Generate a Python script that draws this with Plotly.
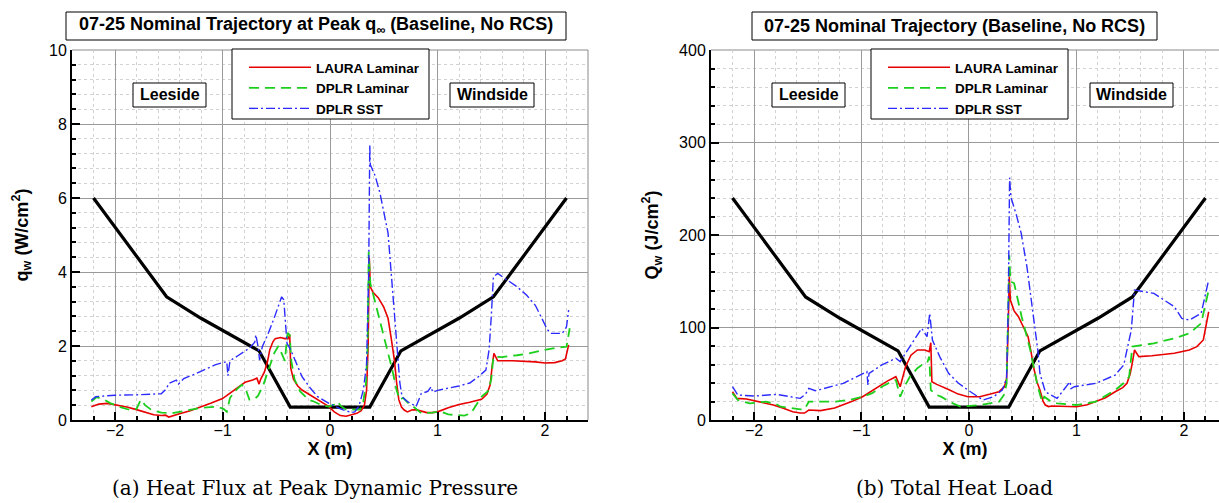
import plotly.graph_objects as go

# ---------------- data ----------------
# body cross-section outline (reference shape)
x_body = [-2.2, -1.52, -1.2, -0.8, -0.66, -0.37, 0.37, 0.66, 0.8, 1.2, 1.52, 2.2]
q_body = [6.0, 3.33, 2.75, 2.1, 1.87, 0.35, 0.35, 1.87, 2.1, 2.75, 3.33, 6.0]
Q_body = [240, 133, 110, 84, 74.8, 14, 14, 74.8, 84, 110, 133, 240]

# (a) heat flux at peak dynamic pressure, W/cm^2
x_laura_q = [-2.22, -2.15, -2.07, -1.98, -1.89, -1.8, -1.72, -1.64, -1.57, -1.53, -1.5, -1.45, -1.4, -1.3, -1.2,
             -1.11, -1.0, -0.93, -0.86, -0.79, -0.72, -0.68, -0.66, -0.645, -0.61, -0.58, -0.56, -0.53, -0.51,
             -0.46, -0.42, -0.39, -0.375, -0.365, -0.34, -0.3, -0.26, -0.2, -0.115, -0.05, -0.01, 0.04, 0.096,
             0.15, 0.2, 0.25, 0.29, 0.32, 0.34, 0.355, 0.365, 0.375, 0.40, 0.45, 0.5, 0.54, 0.57, 0.60, 0.62,
             0.64, 0.665, 0.69, 0.72, 0.76, 0.8, 0.85, 0.9, 0.95, 1.0, 1.1, 1.2, 1.3, 1.41, 1.46, 1.49, 1.51,
             1.525, 1.56, 1.7, 1.91, 2.0, 2.09, 2.16, 2.19, 2.22]
laura_q = [0.36, 0.43, 0.45, 0.41, 0.35, 0.28, 0.2, 0.14, 0.12, 0.13, 0.08, 0.13, 0.17, 0.25, 0.35,
           0.45, 0.58, 0.72, 0.88, 1.02, 1.08, 1.13, 0.97, 1.1, 1.3, 1.6, 1.9, 2.12, 2.2,
           2.23, 2.2, 2.2, 2.3, 1.4, 1.1, 0.92, 0.81, 0.7, 0.54, 0.42, 0.36, 0.22, 0.12,
           0.1, 0.13, 0.18, 0.25, 0.4, 0.8, 2.0, 4.4, 3.6, 3.45, 3.3, 3.05, 2.75, 2.2, 1.6, 1.0,
           0.55, 0.35, 0.27, 0.22, 0.27, 0.28, 0.25, 0.2, 0.2, 0.22, 0.33, 0.42, 0.48, 0.56, 0.7, 0.95, 1.5,
           1.8, 1.6, 1.6, 1.57, 1.54, 1.55, 1.6, 1.65, 2.03]

x_dplr_q = [-2.22, -2.17, -2.1, -2.04, -1.95, -1.86, -1.8, -1.76, -1.72, -1.66, -1.57, -1.47, -1.35, -1.19,
            -1.05, -0.99, -0.96, -0.93, -0.86, -0.82, -0.78, -0.75, -0.71, -0.67, -0.62, -0.57, -0.52, -0.48,
            -0.44, -0.42, -0.395, -0.375, -0.36, -0.33, -0.28, -0.2, -0.15, -0.08, -0.01, 0.04, 0.07, 0.1,
            0.15, 0.22, 0.28, 0.31, 0.335, 0.35, 0.36, 0.375, 0.41, 0.45, 0.49, 0.53, 0.58, 0.62, 0.65, 0.68,
            0.72, 0.78, 0.85, 0.95, 1.03, 1.1, 1.17, 1.25, 1.31, 1.36, 1.41, 1.47, 1.5, 1.52, 1.6, 1.74, 1.85,
            1.99, 2.1, 2.2, 2.23]
dplr_q = [0.5, 0.62, 0.55, 0.45, 0.35, 0.27, 0.3, 0.55, 0.4, 0.27, 0.2, 0.18, 0.25, 0.33,
          0.36, 0.3, 0.22, 0.6, 0.85, 0.95, 0.8, 0.55, 0.55, 0.65, 0.95, 1.4, 1.8, 2.0,
          1.75, 1.6, 2.35, 2.3, 1.6, 1.1, 0.78, 0.55, 0.5, 0.4, 0.36, 0.42, 0.5, 0.38,
          0.28, 0.27, 0.28, 0.5, 1.0, 2.0, 4.55, 3.7, 3.3, 2.88, 2.4, 1.9, 1.35, 0.8, 0.55, 0.6,
          0.48, 0.35, 0.18, 0.2, 0.23, 0.15, 0.13, 0.12, 0.18, 0.4, 0.63, 0.78, 1.1, 1.71, 1.7, 1.75, 1.8,
          1.89, 1.95, 1.98, 2.48]

x_sst_q = [-2.22, -2.18, -2.1, -2.0, -1.8, -1.57, -1.52, -1.5, -1.43, -1.41, -1.36, -1.25, -1.07, -0.96,
           -0.95, -0.93, -0.85, -0.75, -0.7, -0.69, -0.67, -0.655, -0.63, -0.58, -0.52, -0.47, -0.45, -0.43,
           -0.42, -0.40, -0.365, -0.3, -0.26, -0.18, -0.115, -0.01, 0.096, 0.2, 0.23, 0.27, 0.31, 0.34, 0.36,
           0.37, 0.375, 0.42, 0.465, 0.54, 0.6, 0.63, 0.65, 0.67, 0.72, 0.78, 0.8, 0.85, 0.91, 0.94, 0.955,
           1.0, 1.1, 1.2, 1.3, 1.38, 1.45, 1.48, 1.5, 1.52, 1.56, 1.65, 1.74, 1.83, 1.91, 1.97, 2.02, 2.06,
           2.16, 2.2, 2.22]
sst_q = [0.54, 0.63, 0.65, 0.67, 0.68, 0.71, 0.85, 0.99, 1.08, 0.97, 1.12, 1.25, 1.49, 1.58,
         1.2, 1.6, 1.75, 1.94, 2.1, 2.3, 2.0, 1.62, 1.98, 2.3, 2.75, 3.2, 3.33, 3.25,
         2.79, 2.07, 1.89, 1.45, 1.17, 0.85, 0.63, 0.45, 0.3, 0.2, 0.22, 0.38, 0.81, 1.5, 4.0,
         7.43, 6.9, 6.6, 6.13, 5.05, 2.7, 1.7, 1.0, 0.63, 0.5, 0.4, 0.36, 0.72, 0.77, 0.9, 0.75,
         0.8, 0.85, 0.92, 1.0, 1.17, 1.35, 1.9, 2.79, 3.87, 3.96, 3.78, 3.6, 3.37, 3.1, 2.75, 2.45, 2.34,
         2.34, 2.52, 2.97]

# (b) total heat load, J/cm^2
x_laura_Q = [-2.2, -2.16, -2.07, -1.95, -1.82, -1.72, -1.64, -1.57, -1.53, -1.49, -1.38, -1.25, -1.17, -1.08,
             -0.99, -0.92, -0.85, -0.76, -0.68, -0.64, -0.59, -0.54, -0.48, -0.41, -0.37, -0.355, -0.345, -0.3,
             -0.19, -0.1, -0.01, 0.1, 0.2, 0.28, 0.33, 0.35, 0.365, 0.375, 0.385, 0.42, 0.46, 0.51, 0.55, 0.58,
             0.60, 0.63, 0.66, 0.69, 0.71, 0.74, 0.77, 0.85, 1.0, 1.1, 1.18, 1.27, 1.36, 1.43, 1.47, 1.5, 1.52,
             1.54, 1.58, 1.7, 1.91, 2.05, 2.12, 2.18, 2.23]
laura_Q = [30.6, 23.4, 22.7, 19.5, 16.2, 12.5, 9.0, 7.5, 7.5, 10.8, 10.1, 13.0, 16.2, 20.5,
           25.2, 30.5, 36.0, 42.0, 46.8, 36.0, 57.6, 70.0, 75.7, 75.7, 73.9, 83.6, 41.4, 38.5,
           33.0, 28.0, 25.2, 25.2, 28.0, 30.6, 36.0, 45.0, 100.0, 155.0, 129.7, 118.0, 111.7, 100.0, 90.0, 72.0,
           57.6, 42.0, 32.4, 20.0, 16.2, 14.5, 15.1, 14.8, 14.4, 16.5, 19.8, 24.0, 30.6, 35.0, 39.6, 50.0, 62.0,
           75.7, 68.5, 69.5, 72.1, 75.7, 79.3, 86.5, 117.0]

x_dplr_Q = [-2.2, -2.15, -2.04, -1.89, -1.8, -1.75, -1.57, -1.53, -1.49, -1.35, -1.24, -1.1, -0.99, -0.9,
            -0.81, -0.73, -0.68, -0.64, -0.6, -0.55, -0.48, -0.44, -0.39, -0.37, -0.355, -0.3, -0.26, -0.15,
            -0.08, 0.1, 0.28, 0.33, 0.35, 0.365, 0.375, 0.385, 0.42, 0.49, 0.57, 0.64, 0.68, 0.70, 0.75, 0.82,
            1.0, 1.18, 1.36, 1.44, 1.49, 1.52, 1.6, 1.72, 1.91, 2.05, 2.16, 2.23]
dplr_Q = [28.8, 21.6, 18.0, 19.8, 17.5, 14.4, 11.5, 11.5, 19.8, 19.8, 19.8, 22.0, 25.2, 29.0,
          36.0, 41.0, 43.2, 25.2, 36.0, 46.8, 56.0, 59.5, 61.3, 68.5, 32.4, 27.0, 25.2, 18.0,
          14.4, 16.2, 19.8, 28.0, 39.6, 120.0, 178.0, 150.0, 147.8, 111.7, 75.7, 36.0, 19.8, 25.2, 21.0, 18.0,
          16.2, 19.8, 32.4, 40.0, 46.8, 79.3, 80.5, 82.9, 88.3, 93.7, 104.5, 140.5]

x_sst_Q = [-2.2, -2.15, -2.0, -1.79, -1.57, -1.52, -1.49, -1.43, -1.38, -1.17, -0.95, -0.94, -0.93, -0.81,
           -0.68, -0.64, -0.59, -0.52, -0.44, -0.39, -0.365, -0.34, -0.27, -0.19, -0.1, -0.01, 0.13, 0.23,
           0.31, 0.35, 0.365, 0.378, 0.39, 0.44, 0.486, 0.54, 0.594, 0.64, 0.66, 0.71, 0.82, 0.94, 0.95, 0.98,
           1.18, 1.36, 1.44, 1.51, 1.54, 1.72, 1.91, 1.98, 2.05, 2.16, 2.23]
sst_Q = [36.0, 27.0, 25.9, 27.7, 23.4, 28.0, 34.2, 31.7, 33.1, 39.6, 52.3, 37.8, 50.5, 59.5,
         66.7, 63.1, 72.1, 85.0, 99.1, 90.1, 115.3, 86.5, 68.0, 50.5, 40.0, 32.4, 21.6, 25.2,
         32.4, 45.0, 120.0, 262.0, 241.0, 222.0, 201.8, 165.0, 115.3, 75.7, 50.5, 30.6, 23.4, 41.4, 34.0, 36.0,
         39.6, 48.6, 59.5, 97.3, 140.5, 136.9, 122.5, 109.9, 108.1, 115.3, 151.4]

series_names = ["LAURA Laminar", "DPLR Laminar", "DPLR SST"]
tick_x = [-2, -1, 0, 1, 2]

# ---------------- styling ----------------
W, H = 1219, 503
RED, GREEN, BLUE = "#e80000", "#1ccf1c", "#2b2bff"
styles = [dict(color=RED, width=1.6),
          dict(color=GREEN, width=1.8, dash="10px,6px"),
          dict(color=BLUE, width=1.4, dash="9px,3px,2px,3px")]
SANS = "Liberation Sans, Arial, sans-serif"

def px_x(p):
    return p / W

def px_y(p):
    return 1 - p / H

fig = go.Figure()

left = [(x_laura_q, laura_q), (x_dplr_q, dplr_q), (x_sst_q, sst_q)]
right = [(x_laura_Q, laura_Q), (x_dplr_Q, dplr_Q), (x_sst_Q, sst_Q)]

fig.add_trace(go.Scatter(x=x_body, y=q_body, mode="lines", line=dict(color="black", width=3.2),
                         showlegend=False, xaxis="x", yaxis="y"))
fig.add_trace(go.Scatter(x=x_body, y=Q_body, mode="lines", line=dict(color="black", width=3.2),
                         showlegend=False, xaxis="x2", yaxis="y2"))
for (xs, ys), nm, st in zip(left, series_names, styles):
    fig.add_trace(go.Scatter(x=xs, y=ys, mode="lines", name=nm, line=st, xaxis="x", yaxis="y",
                             legend="legend"))
for (xs, ys), nm, st in zip(right, series_names, styles):
    fig.add_trace(go.Scatter(x=xs, y=ys, mode="lines", name=nm, line=st, xaxis="x2", yaxis="y2",
                             legend="legend2"))

y_dom = [px_y(420), px_y(50)]
common_axis = dict(showline=True, linecolor="black", linewidth=2, ticks="inside", ticklen=8,
                   tickwidth=1.5, tickcolor="black", showgrid=True, gridcolor="#9a9a9a", gridwidth=1,
                   zeroline=False, automargin=False,
                   tickfont=dict(family=SANS, size=16, color="black"),
                   title_font=dict(family=SANS, size=18, color="black"))

def minor(dt):
    return dict(dtick=dt, tick0=0, ticks="inside", ticklen=4, tickcolor="black",
                showgrid=True, gridcolor="#d2d2d2", griddash="dot")

legend_common = dict(xanchor="left", yanchor="top", bgcolor="rgba(0,0,0,0)", borderwidth=0,
                     itemwidth=62, font=dict(family=SANS, size=13.5, color="black", weight="bold"))

fig.update_layout(
    width=W, height=H, margin=dict(l=0, r=0, t=0, b=0, autoexpand=False),
    paper_bgcolor="white", plot_bgcolor="white",
    xaxis=dict(domain=[px_x(72), px_x(588)], range=[-2.4, 2.4], tickvals=tick_x, minor=minor(0.2),
               ticklabelstandoff=-5,
               title=dict(text="<b>X (m)</b>", standoff=3), anchor="y", **common_axis),
    yaxis=dict(domain=y_dom, range=[0, 10], dtick=2, minor=minor(0.4),
               title=dict(text="<b>q<sub>w</sub> (W/cm<sup>2</sup>)</b>", standoff=16), anchor="x",
               **common_axis),
    xaxis2=dict(domain=[px_x(711), 1.0], range=[-2.4, 2.326], tickvals=tick_x, minor=minor(0.2),
                ticklabelstandoff=-5,
                title=dict(text="<b>X (m)</b>", standoff=3), anchor="y2", **common_axis),
    yaxis2=dict(domain=y_dom, range=[0, 400], dtick=100, minor=minor(20),
                title=dict(text="<b>Q<sub>w</sub> (J/cm<sup>2</sup>)</b>", standoff=16), anchor="x2",
                **common_axis),
    legend=dict(x=px_x(244), y=px_y(52), **legend_common),
    legend2=dict(x=px_x(883), y=px_y(52), **legend_common),
)

shapes = []
# gray frame on top/right of each plot
for xr, yr in (("x domain", "y domain"), ("x2 domain", "y2 domain")):
    shapes.append(dict(type="line", xref=xr, yref=yr, x0=0, x1=1, y0=1, y1=1,
                       line=dict(color="#8a8a8a", width=1), layer="below"))
shapes.append(dict(type="line", xref="x domain", yref="y domain", x0=1, x1=1, y0=0, y1=1,
                   line=dict(color="#8a8a8a", width=1), layer="below"))

boxes = [
    (66, 566, 12, 40), (752, 1157, 12, 40),            # title boxes
    (232, 429, 49, 119), (871, 1068, 49, 119),         # legend boxes
    (133, 206, 83, 107), (450, 534, 83, 107),          # leeside / windside (a)
    (772, 845, 83, 107), (1090, 1173, 83, 107),        # leeside / windside (b)
]
for x0, x1, y0, y1 in boxes:
    shapes.append(dict(type="rect", xref="paper", yref="paper", x0=px_x(x0), x1=px_x(x1),
                       y0=px_y(y1), y1=px_y(y0), line=dict(color="black", width=1),
                       fillcolor="white", layer="above"))
fig.update_layout(shapes=shapes)

annots = [
    ("<b>07-25 Nominal Trajectory at Peak q<sub>∞</sub> (Baseline, No RCS)</b>", 316, 26, 18, SANS),
    ("<b>07-25 Nominal Trajectory (Baseline, No RCS)</b>", 955, 26, 18, SANS),
    ("<b>Leeside</b>", 169.5, 95, 16, SANS),
    ("<b>Windside</b>", 492, 95, 16, SANS),
    ("<b>Leeside</b>", 808.5, 95, 16, SANS),
    ("<b>Windside</b>", 1131.5, 95, 16, SANS),
    ("(a) Heat Flux at Peak Dynamic Pressure", 315, 488, 20, "DejaVu Serif, serif"),
    ("(b) Total Heat Load", 955, 488, 20, "DejaVu Serif, serif"),
]
for txt, cx, cy, fs, fam in annots:
    fig.add_annotation(text=txt, x=px_x(cx), y=px_y(cy), xref="paper", yref="paper",
                       xanchor="center", yanchor="middle", showarrow=False,
                       font=dict(family=fam, size=fs, color="black"))

fig.write_html("out.html", config={"displayModeBar": False},
               post_script="document.body.style.margin='0';")
